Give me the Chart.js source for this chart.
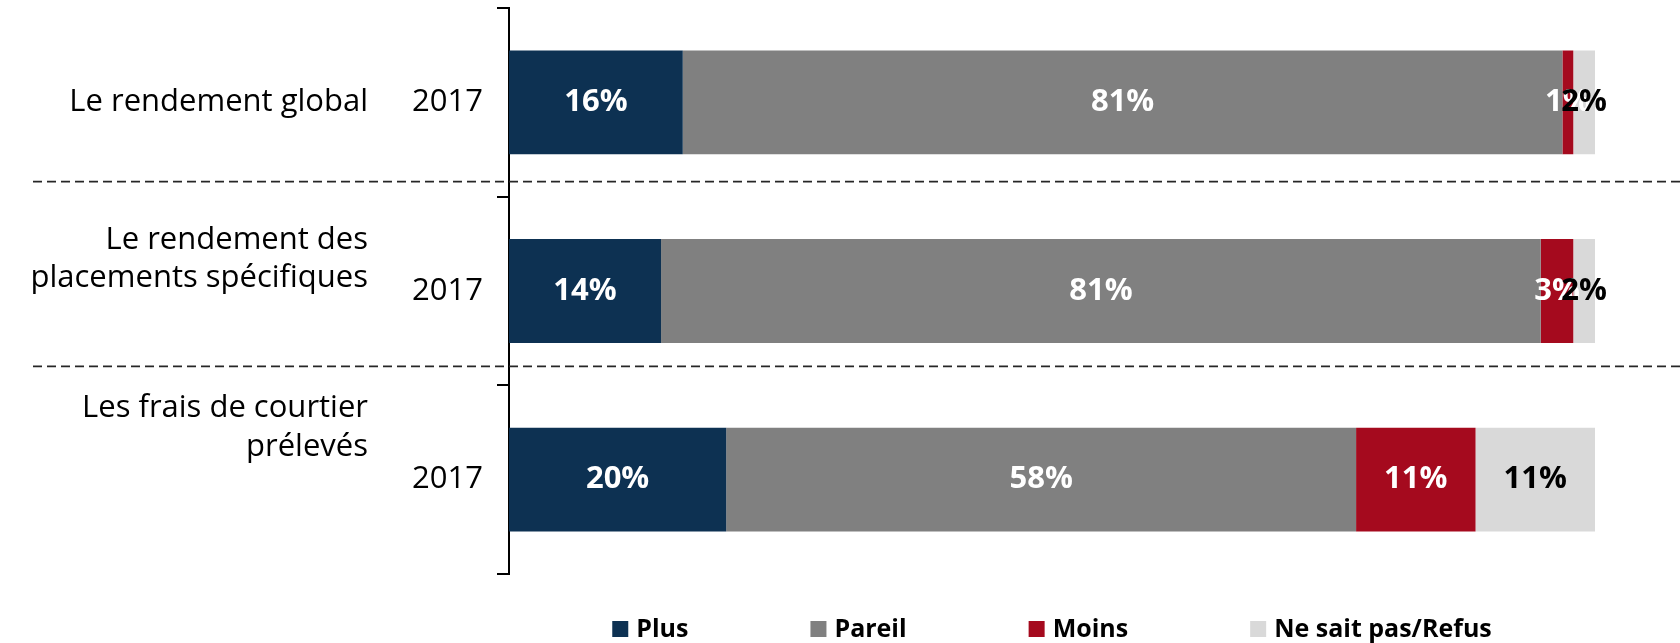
<!DOCTYPE html>
<html>
<head>
<meta charset="utf-8">
<script src="https://cdn.jsdelivr.net/npm/chart.js@4.4.0/dist/chart.umd.min.js"></script>
<style>
  body { margin: 0; background: #fff; }
  #wrap { width: 1680px; height: 643px; position: relative; }
</style>
</head>
<body>
<div id="wrap"><canvas id="barChart"></canvas></div>
<script>

// data
let categories = [
  ["Le rendement global"],
  ["Le rendement des", "placements spécifiques"],
  ["Les frais de courtier", "prélevés"]
];
let years = ["2017", "2017", "2017"];
let seriesNames = ["Plus", "Pareil", "Moins", "Ne sait pas/Refus"];
let plus = [16, 14, 20];
let pareil = [81, 81, 58];
let moins = [1, 3, 11];
let nsp = [2, 2, 11];

let colors = ['#0d3152', '#808080', '#a50a1e', '#d9d9d9'];
let labelColors = ['#ffffff', '#ffffff', '#ffffff', '#000000'];
let FONT = '"Open Sans", "DejaVu Sans", sans-serif';


// group names at the far left, drawn next to the year ticks
var groupLabels = {
  id: 'groupLabels',
  afterDraw: function(chart) {
    var ctx = chart.ctx;
    var yScale = chart.scales.y;
    var shift = [0, -32, -52];
    ctx.save();
    ctx.font = '31px ' + FONT;
    ctx.fillStyle = '#000';
    ctx.textAlign = 'right';
    ctx.textBaseline = 'middle';
    categories.forEach(function(lines, i) {
      var cy = yScale.getPixelForValue(i) + shift[i];
      lines.forEach(function(line, j) {
        ctx.fillText(line, 368, cy + (j - (lines.length - 1) / 2) * 38.5);
      });
    });

    // dashed separators between the groups
    var lift = [-15, -19];
    ctx.strokeStyle = '#262626';
    ctx.lineWidth = 1.8;
    ctx.setLineDash([9, 5]);
    for (var i = 0; i < categories.length - 1; i++) {
      var y = (yScale.getPixelForValue(i) + yScale.getPixelForValue(i + 1)) / 2 + lift[i];
      ctx.beginPath();
      ctx.moveTo(33, y);
      ctx.lineTo(chart.width, y);
      ctx.stroke();
    }
    ctx.restore();
  }
};

// percent labels in the middle of each segment
var barValues = {
  id: 'barValues',
  afterDatasetsDraw: function(chart) {
    var ctx = chart.ctx;
    ctx.save();
    ctx.font = 'bold 31px ' + FONT;
    ctx.textAlign = 'center';
    ctx.textBaseline = 'middle';
    chart.data.datasets.forEach(function(ds, i) {
      var meta = chart.getDatasetMeta(i);
      meta.data.forEach(function(bar, j) {
        ctx.fillStyle = labelColors[i];
        ctx.fillText(ds.data[j] + '%', (bar.x + bar.base) / 2, bar.y);
      });
    });
    ctx.restore();
  }
};

// legend row under the chart, centred on the plot area
var bottomLegend = {
  id: 'bottomLegend',
  afterDraw: function(chart) {
    var ctx = chart.ctx;
    var area = chart.chartArea;
    var box = 16, gapText = 8, gapItem = 122;
    ctx.save();
    ctx.font = 'bold 25px ' + FONT;
    ctx.textBaseline = 'middle';
    ctx.textAlign = 'left';
    var widths = chart.data.datasets.map(function(ds) {
      return box + gapText + ctx.measureText(ds.label).width;
    });
    var total = widths.reduce(function(a, b) { return a + b; }, 0) + gapItem * (widths.length - 1);
    var x = (area.left + area.right) / 2 - total / 2;
    var y = 629;
    chart.data.datasets.forEach(function(ds, i) {
      ctx.fillStyle = ds.backgroundColor;
      ctx.fillRect(x, y - box / 2, box, box);
      ctx.fillStyle = '#000';
      ctx.fillText(ds.label, x + box + gapText, y + 1);
      x += widths[i] + gapItem;
    });
    ctx.restore();
  }
};


var values = [plus, pareil, moins, nsp];
var datasets = seriesNames.map(function(name, i) {
  return {
    label: name,
    data: values[i],
    backgroundColor: colors[i],
    borderWidth: 0,
    barPercentage: 0.55,
    categoryPercentage: 1
  };
});

var barChartCanvas = document.getElementById('barChart').getContext('2d');
var barChart = new Chart(barChartCanvas, {
  type: 'bar',
  data: {
    labels: categories.map(function(c) { return c.join(' '); }),
    datasets: datasets
  },
  options: {
    indexAxis: 'y',
    responsive: true,
    maintainAspectRatio: false,
    animation: false,
    layout: {
      padding: { top: 8, bottom: 69, left: 0, right: 85 }
    },
    plugins: {
      legend: { display: false },
      tooltip: { enabled: false }
    },
    scales: {
      x: {
        stacked: true,
        display: false,
        min: 0,
        max: 100
      },
      y: {
        stacked: true,
        afterFit: function(scale) {
          scale.width = 509;
          scale.paddingTop = 0;
          scale.paddingBottom = 0;
        },
        border: { display: true, color: '#000', width: 2 },
        grid: {
          offset: true,
          drawOnChartArea: false,
          color: '#000',
          lineWidth: 2,
          tickLength: 12
        },
        ticks: {
          color: '#000',
          padding: 14,
          font: { family: FONT, size: 31 },
          callback: function(value, index) { return years[index]; }
        }
      }
    }
  },
  plugins: [groupLabels, barValues, bottomLegend]
});

</script>
</body>
</html>
